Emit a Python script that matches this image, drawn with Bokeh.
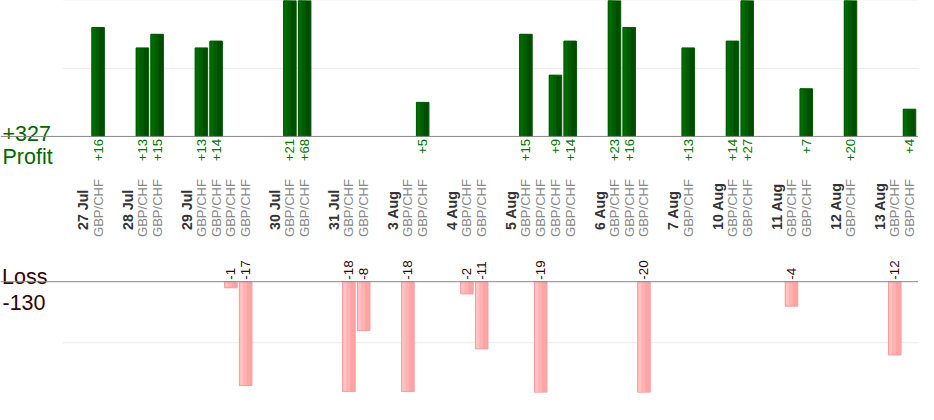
import math
from bokeh.plotting import figure
from bokeh.models import Range1d, ColumnDataSource, Span
from bokeh.core.properties import value
from bokeh.transform import dodge
from bokeh.embed import file_html
from bokeh.resources import INLINE

# ---------------- data ----------------
dates = ["27 Jul", "28 Jul", "29 Jul", "30 Jul", "31 Jul", "3 Aug", "4 Aug",
         "5 Aug", "6 Aug", "7 Aug", "10 Aug", "11 Aug", "12 Aug", "13 Aug"]
pair = "GBP/CHF"
trades = [
    [16],
    [13, 15],
    [13, 14, -1, -17],
    [21, 68],
    [-18, -8],
    [-18, 5],
    [-2, -11],
    [15, -19, 9, 14],
    [23, 16, -20],
    [13],
    [14, 27],
    [-4, 7],
    [20],
    [-12, 4],
]
profit_grid = [10, 20]
loss_grid = [-10, -20]

# ---------------- slots ----------------
date_x, date_txt = [], []
px, pv, pl = [], [], []
lx, lv, ll = [], [], []
pair_x, pair_txt = [], []
slot = 0
for d, vals in zip(dates, trades):
    date_x.append(slot)
    date_txt.append(d)
    for v in vals:
        slot += 1
        pair_x.append(slot)
        pair_txt.append(pair)
        if v > 0:
            px.append(slot); pv.append(v); pl.append("+%d" % v)
        else:
            lx.append(slot); lv.append(v); ll.append("%d" % v)
    slot += 2

total_profit = sum(pv)
total_loss = sum(lv)

X0, X1 = -5.617, 56.61
GX0 = -1.42
FONT = value("Liberation Sans")
GREEN = "#006600"
MAROON = "#330000"

p = figure(width=918, height=404, x_range=Range1d(X0, X1),
           y_range=Range1d(-37.6, 19.96),
           x_axis_type=None, y_axis_type=None, title=None,
           toolbar_location=None, output_backend="svg",
           min_border=0, min_border_bottom=12)
p.extra_y_ranges = {"loss": Range1d(-18.14, 46.04)}
p.outline_line_color = None
p.background_fill_color = "white"
p.border_fill_color = "white"

# grid lines
p.segment(x0=[GX0] * len(profit_grid), x1=[X1] * len(profit_grid),
          y0=profit_grid, y1=profit_grid, line_color="#ebebeb", line_width=1)
p.segment(x0=[GX0] * len(loss_grid), x1=[X1] * len(loss_grid),
          y0=loss_grid, y1=loss_grid, line_color="#ebebeb", line_width=1,
          y_range_name="loss")

psrc = ColumnDataSource(dict(x=px, v=pv, t=pl))
lsrc = ColumnDataSource(dict(x=lx, v=lv, t=ll))

W = 0.85
# profit bars (faint left-to-right gradient made of strips)
p.vbar(x="x", top="v", bottom=0, width=W, source=psrc,
       fill_color="#004d00", line_color=None)
p.vbar(x=dodge("x", -W * 0.2), top="v", bottom=0, width=W * 0.6, source=psrc,
       fill_color="#005d00", line_color=None)
p.vbar(x=dodge("x", -W * 0.35), top="v", bottom=0, width=W * 0.3, source=psrc,
       fill_color="#006b00", line_color=None)
p.vbar(x="x", top="v", bottom=0, width=W, source=psrc,
       fill_color=None, line_color="#005a00", line_width=1)

# loss bars
p.vbar(x="x", top=0, bottom="v", width=W, source=lsrc, y_range_name="loss",
       fill_color="#ffa4a4", line_color=None)
p.vbar(x=dodge("x", -W * 0.2), top=0, bottom="v", width=W * 0.6, source=lsrc,
       y_range_name="loss", fill_color="#ffb2b2", line_color=None)
p.vbar(x=dodge("x", -W * 0.35), top=0, bottom="v", width=W * 0.3, source=lsrc,
       y_range_name="loss", fill_color="#ffc2c2", line_color=None)
p.vbar(x="x", top=0, bottom="v", width=W, source=lsrc, y_range_name="loss",
       fill_color=None, line_color="#ff9a9a", line_width=1)

# baselines
p.add_layout(Span(location=0, dimension="width", line_color="#888888", line_width=1))
p.add_layout(Span(location=0, dimension="width", line_color="#888888", line_width=1,
                  y_range_name="loss"))

# value labels
p.text(x="x", y=0, text="t", source=psrc, angle=math.pi / 2,
       text_align="right", text_baseline="middle", y_offset=2.5,
       text_font=FONT, text_font_size="13.2px", text_color="#007700")
p.text(x="x", y=0, text="t", source=lsrc, angle=math.pi / 2, y_range_name="loss",
       text_align="left", text_baseline="middle", y_offset=-2,
       text_font=FONT, text_font_size="13.4px", text_color=MAROON)

# category labels
p.text(x=date_x, y=[0] * len(date_x), text=date_txt, angle=math.pi / 2,
       text_align="left", text_baseline="middle", y_offset=93.5,
       text_font=FONT, text_font_size="14.2px", text_font_style="bold",
       text_color="#333333")
p.text(x=pair_x, y=[0] * len(pair_x), text=pair_txt, angle=math.pi / 2,
       text_align="left", text_baseline="middle", y_offset=100.5,
       text_font=FONT, text_font_size="13px", text_color="#888888")

# totals
p.text(x=[X0], y=[0], text=["+%d" % total_profit], text_align="left",
       text_baseline="alphabetic", x_offset=2, y_offset=-2.8,
       text_font=FONT, text_font_size="21.5px", text_color=GREEN)
p.text(x=[X0], y=[0], text=["Profit"], text_align="left",
       text_baseline="alphabetic", x_offset=2, y_offset=20.9,
       text_font=FONT, text_font_size="21.5px", text_color=GREEN)
p.text(x=[X0], y=[0], text=["Loss"], text_align="left", y_range_name="loss",
       text_baseline="alphabetic", x_offset=1.5, y_offset=-4.8,
       text_font=FONT, text_font_size="21.5px", text_color=MAROON)
p.text(x=[X0], y=[0], text=["%d" % total_loss], text_align="left", y_range_name="loss",
       text_baseline="alphabetic", x_offset=2, y_offset=20.8,
       text_font=FONT, text_font_size="21.5px", text_color=MAROON)

open("out.html", "w").write(file_html(p, INLINE))
